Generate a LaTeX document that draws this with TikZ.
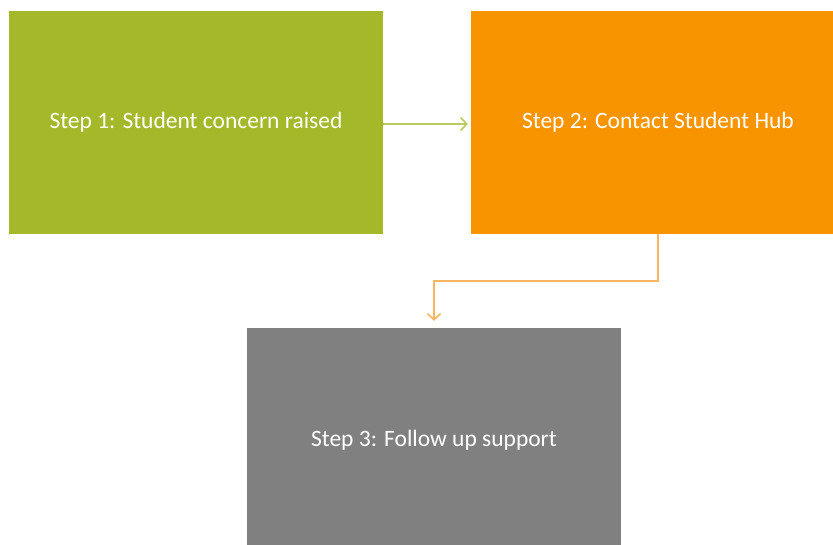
\documentclass[tikz,border=0pt]{standalone}
\usepackage{fontspec}
\setmainfont{Carlito}
\usetikzlibrary{arrows.meta}
\definecolor{boxgreen}{HTML}{A5B82A}
\definecolor{boxorange}{HTML}{F79400}
\definecolor{boxgray}{HTML}{808080}
\definecolor{lnkgreen}{HTML}{B9CA62}
\definecolor{lnkorange}{HTML}{F9B560}
\tikzset{
  stepbox/.style={draw=none, minimum width=374pt, minimum height=223pt, inner sep=0pt, text=white, font=\fontsize{23.5}{28}\selectfont},
  lnk/.style={line width=1.6pt, -{Straight Barb[length=6pt, width=13pt, line width=1.6pt]}}
}
\begin{document}
\begin{tikzpicture}[x=1pt, y=-1pt]
\clip (0,0) rectangle (833,544);
\useasboundingbox (0,0) rectangle (833,544);
\node[stepbox, fill=boxgreen] (s1) at (196,122.5) {Step 1: Student concern raised};
\node[stepbox, fill=boxorange] (s2) at (658,122.5) {Step 2: Contact Student Hub};
\node[stepbox, fill=boxgray, text depth=0pt, yshift=0pt] (s3) at (434,439.5) {\raisebox{2pt}{Step 3: Follow up support}};
\draw[lnk, draw=lnkgreen] ([yshift=-1.5pt]s1.east) -- ([xshift=-3pt,yshift=-1.5pt]s2.west);
\draw[lnk, draw=lnkorange] (s2.south) |- (434,281) -- ([yshift=7pt]s3.north);
\end{tikzpicture}
\end{document}
